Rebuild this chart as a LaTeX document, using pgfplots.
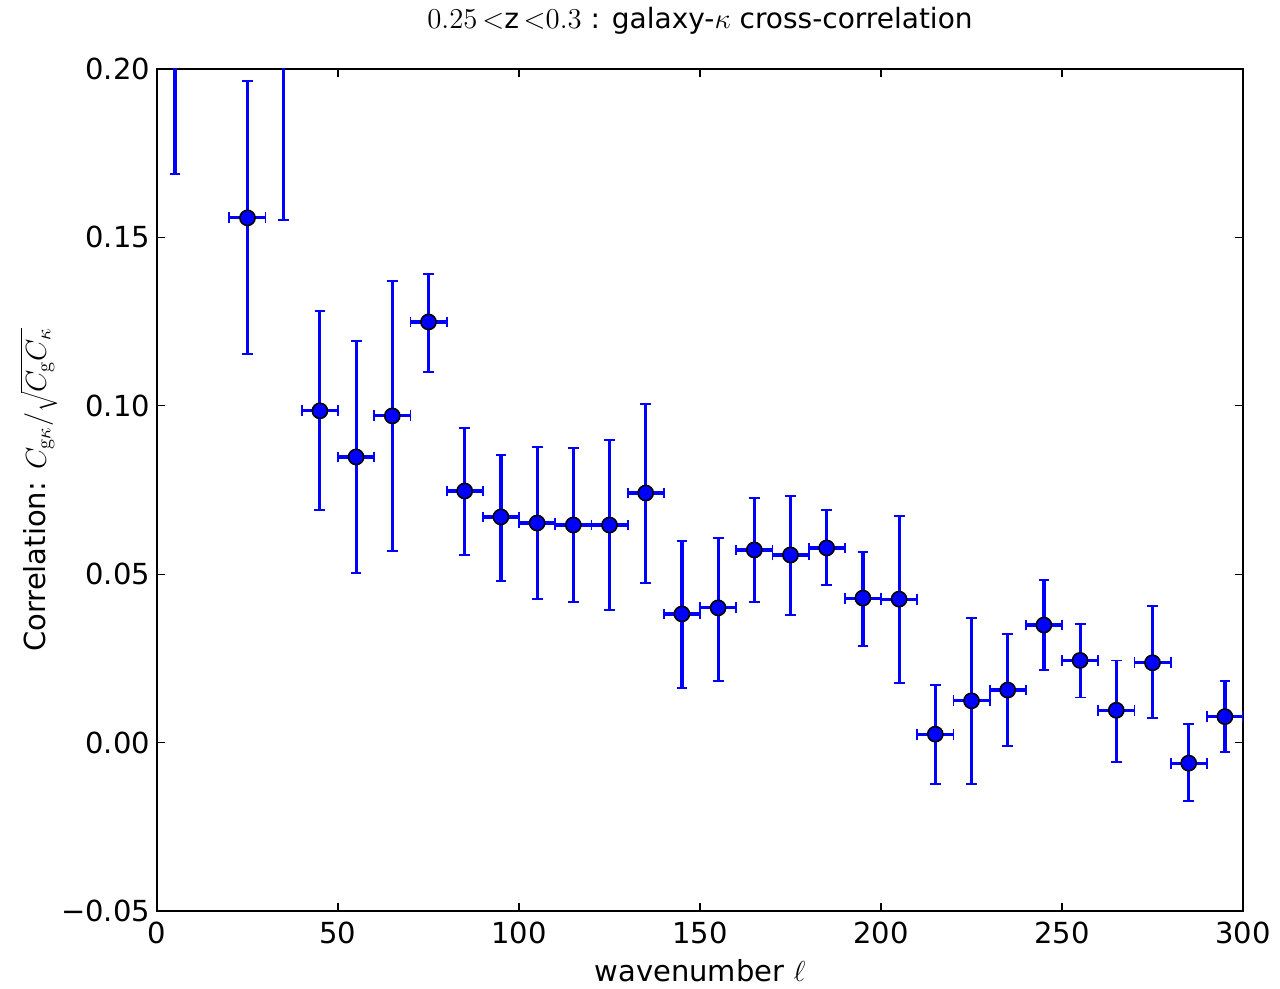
\documentclass[border=0pt]{standalone}
\usepackage[no-math]{fontspec}
\setmainfont{DejaVu Sans}
\usepackage{pgfplots}
\usepackage{pgfplotstable}
\pgfplotsset{compat=1.18}
\pgfplotstableread{
x y ep em
5 0.23 0.07 0.0612
25 0.1558 0.0406 0.0404
35 0.23 0.07 0.0748
45 0.0985 0.0297 0.0294
55 0.0848 0.0344 0.0344
65 0.0970 0.0400 0.0401
75 0.1249 0.0142 0.0149
85 0.0747 0.0187 0.0190
95 0.0670 0.0184 0.0190
105 0.0652 0.0226 0.0226
115 0.0646 0.0229 0.0228
125 0.0646 0.0253 0.0252
135 0.0741 0.0264 0.0267
145 0.0382 0.0217 0.0220
155 0.0400 0.0208 0.0217
165 0.0572 0.0155 0.0154
175 0.0557 0.0176 0.0178
185 0.0578 0.0113 0.0110
195 0.0429 0.0137 0.0142
205 0.0426 0.0247 0.0249
215 0.0025 0.0145 0.0147
225 0.0124 0.0247 0.0248
235 0.0156 0.0166 0.0165
245 0.0349 0.0134 0.0134
255 0.0244 0.0109 0.0110
265 0.0096 0.0148 0.0153
275 0.0237 0.0168 0.0165
285 -0.0061 0.0116 0.0112
295 0.0077 0.0106 0.0106
}\datatable
\begin{document}
\begin{tikzpicture}
\begin{axis}[
  name=ax,
  scale only axis,
  width=543pt, height=421pt,
  xmin=0, xmax=300, ymin=-0.05, ymax=0.20,
  xtick={0,50,100,150,200,250,300},
  ytick={-0.05,0,0.05,0.10,0.15,0.20},
  yticklabels={−0.05,0.00,0.05,0.10,0.15,0.20},
  /pgf/number format/assume math mode=true,
  tick align=inside,
  tick pos=both,
  major tick length=4pt,
  tick style={black, line width=0.6pt},
  axis line style={line width=1.2pt},
  minor tick num=0,
  font=\fontsize{14.5pt}{17pt}\selectfont,
  ticklabel style={font=\fontsize{14.5pt}{17pt}\selectfont},
  xticklabel style={yshift=-2pt},
  title={$0.25\,{<}$z$\,{<}0.3$ : galaxy-$\kappa$ cross-correlation},
  title style={at={(0.5,1)}, anchor=base, yshift=14pt, font=\fontsize{14pt}{17pt}\selectfont},
  xlabel={wavenumber $\ell$},
  ylabel={Correlation: $C_{\mathrm{g}\kappa}/\sqrt{C_{\mathrm{g}}C_{\kappa}}$},
  xlabel style={yshift=-1pt},
  ylabel style={yshift=-5pt},
  clip=true,
]
\addplot[
  only marks,
  blue,
  mark=*,
  mark size=3.8pt,
  mark options={fill=blue, draw=black, line width=0.8pt},
  error bars/.cd,
    x dir=both, x explicit,
    y dir=both, y explicit,
    error bar style={line width=1.6pt, blue},
    error mark options={rotate=90, mark size=2.7pt, line width=0.9pt, blue},
] table[x=x, y=y, x error expr=5, y error plus=ep, y error minus=em] {\datatable};
\end{axis}
\pgfresetboundingbox
\path[use as bounding box] ([shift={(-78.5pt,-39pt)}]ax.south west) rectangle ([shift={(18.5pt,34.5pt)}]ax.north east);
\end{tikzpicture}
\end{document}
